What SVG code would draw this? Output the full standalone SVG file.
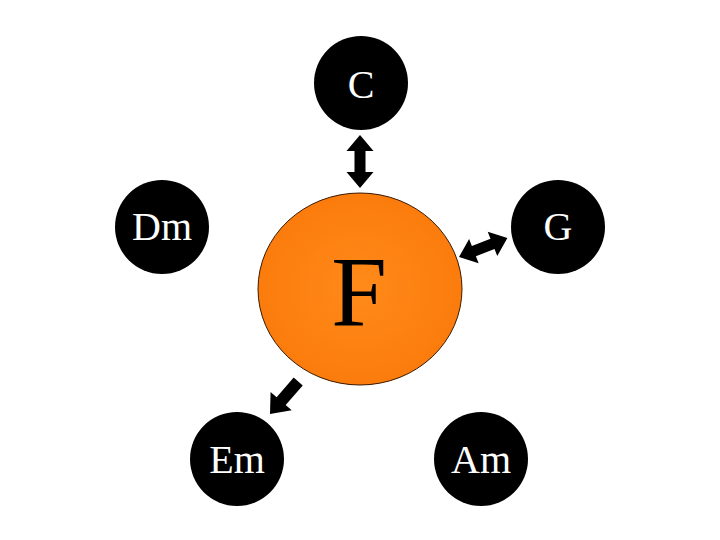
<svg xmlns="http://www.w3.org/2000/svg" width="720" height="540" viewBox="0 0 720 540">
<style>
.node{fill:#000}
.lbl{font-family:"Liberation Serif","Times New Roman",serif;fill:#fff;font-size:40px;text-anchor:middle}
.arrow{fill:#000}
</style>
<defs>
<radialGradient id="og" cx="0.5" cy="0.5" r="0.5">
<stop offset="0" stop-color="#ff8a1a"/>
<stop offset="1" stop-color="#fb7c0c"/>
</radialGradient>
</defs>
<rect width="720" height="540" fill="#fff"/>
<g id="connectors">
<polygon class="arrow" transform="translate(360,135) rotate(90)" points="0,0 16,-13.5 16,-5.5 37,-5.5 37,-13.5 53,0 37,13.5 37,5.5 16,5.5 16,13.5"/>
<polygon class="arrow" transform="translate(459,257) rotate(-21.5)" points="0,0 16,-13 16,-5.5 36,-5.5 36,-13 52,0 36,13 36,5.5 16,5.5 16,13"/>
<polygon class="arrow" transform="translate(270,414) rotate(-49)" points="0,0 17,-14 17,-6 43,-6 43,6 17,6 17,14"/>
</g>
<g id="F">
<ellipse cx="360" cy="289" rx="102" ry="96" fill="url(#og)" stroke="#3a1a00" stroke-width="1"/>
<text x="359" y="325" font-family="Liberation Serif,'Times New Roman',serif" font-size="100" text-anchor="middle" fill="#000">F</text>
</g>
<g id="C"><circle class="node" cx="361" cy="83" r="47"/><text class="lbl" x="361" y="98">C</text></g>
<g id="Dm"><circle class="node" cx="162" cy="227" r="47"/><text class="lbl" x="162" y="240">Dm</text></g>
<g id="G"><circle class="node" cx="558" cy="227" r="47"/><text class="lbl" x="558" y="240">G</text></g>
<g id="Em"><circle class="node" cx="237" cy="459" r="47"/><text class="lbl" x="237" y="473">Em</text></g>
<g id="Am"><circle class="node" cx="481" cy="459" r="47"/><text class="lbl" x="481" y="473">Am</text></g>
</svg>
